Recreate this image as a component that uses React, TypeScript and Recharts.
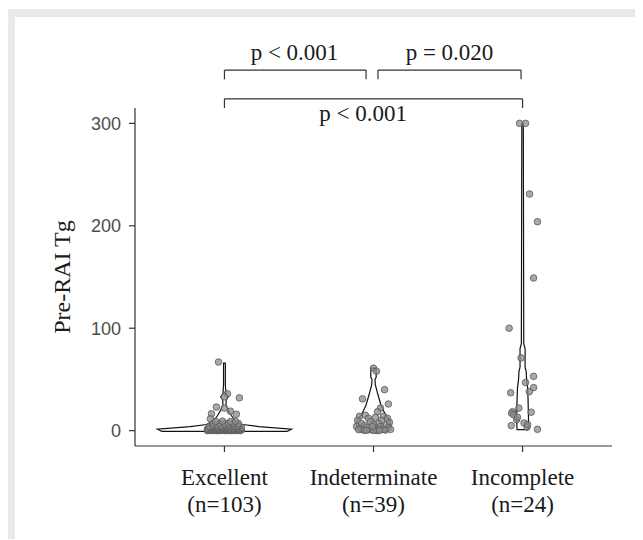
import { ComposedChart, Scatter, XAxis, YAxis, ReferenceLine, ReferenceDot } from "recharts";

const categories = ["Excellent", "Indeterminate", "Incomplete"];
const groupSizes = ["(n=103)", "(n=39)", "(n=24)"];
const yTicks = [0, 100, 200, 300];

// [jitter (category units), Pre-RAI Tg]
const excellentPoints: [number, number][] = [
  [-0.04, 67], [0.02, 36], [0, 33], [0.1, 32], [-0.054, 23], [0, 22], [-0.087, 16.5], [0.08, 16], [-0.094, 11.5], [0.04, 19],
  [-0.114, 0], [-0.094, 0.2], [-0.074, 0], [-0.054, 0.1], [-0.034, 0], [-0.013, 0.3], [0.007, 0], [0.027, 0.1], [0.047, 0], [0.067, 0.2], [0.087, 0], [0.107, 0.1],
  [-0.107, 0.5], [-0.08, 0.6], [-0.06, 0.4], [-0.04, 0.5], [-0.02, 0.7], [0, 0.5], [0.02, 0.6], [0.04, 0.4], [0.06, 0.5], [0.08, 0.7], [0.1, 0.5], [0.114, 0.6],
  [-0.1, 1], [-0.087, 1.1], [-0.067, 0.9], [-0.047, 1], [-0.027, 1.2], [-0.007, 1], [0.013, 1.1], [0.034, 0.9], [0.054, 1], [0.074, 1.2], [0.094, 1],
  [-0.114, 1.5], [-0.08, 1.6], [-0.054, 1.4], [-0.034, 1.5], [-0.013, 1.7], [0.007, 1.5], [0.027, 1.6], [0.047, 1.4], [0.067, 1.5], [0.094, 1.7], [0.107, 1.5],
  [-0.107, 2], [-0.087, 2.2], [-0.06, 2.1], [-0.04, 1.9], [-0.02, 2], [0, 2.3], [0.02, 2], [0.04, 2.1], [0.06, 1.9], [0.08, 2.2], [0.1, 2],
  [-0.094, 3], [-0.074, 3.2], [-0.047, 2.9], [-0.027, 3.1], [-0.007, 3], [0.013, 3.3], [0.034, 2.8], [0.054, 3], [0.074, 3.2], [0.087, 2.9], [0.114, 3],
  [-0.1, 4], [-0.067, 4.2], [-0.04, 3.9], [-0.013, 4.1], [0.013, 4], [0.04, 4.3], [0.067, 3.8], [0.094, 4],
  [-0.08, 5], [-0.054, 5.3], [-0.02, 4.8], [0.007, 5.1], [0.034, 5], [0.06, 5.4], [0.087, 4.9],
  [-0.074, 7], [-0.034, 7.2], [0, 6.8], [0.027, 7.1], [0.06, 7], [0.094, 6.9],
  [-0.06, 9], [-0.013, 9.3], [0.04, 8.8], [0.074, 9.1],
];

const indeterminatePoints: [number, number][] = [
  [0, 61], [0.02, 58], [0.074, 40], [-0.074, 31], [0.1, 26], [0.047, 22], [0.027, 18.5],
  [-0.094, 14], [-0.054, 15], [0.067, 14], [0.094, 12], [-0.107, 10], [-0.034, 12], [0.013, 13], [0.054, 10],
  [0.107, 8], [-0.08, 7], [-0.02, 9], [0.034, 7], [0.08, 5], [-0.114, 4], [-0.06, 5], [0, 6], [0.047, 4],
  [0.1, 3], [-0.087, 2], [-0.04, 3], [0.013, 2], [0.06, 1.5], [-0.067, 0.5], [-0.02, 1], [0.027, 0], [0.08, 0.5],
  [-0.047, 0.2], [0, 0.1], [0.04, 0.3], [-0.1, 1], [0.114, 1.2], [-0.007, 4],
];

const incompletePoints: [number, number][] = [
  [-0.02, 300], [0.02, 300], [0.047, 231], [0.1, 204], [0.074, 149], [-0.09, 100], [-0.01, 71], [0.074, 53],
  [0.02, 47], [0.074, 42], [0.045, 38], [-0.08, 37], [-0.025, 22], [-0.067, 18.5], [-0.074, 17], [-0.06, 15.5],
  [0.058, 18], [-0.04, 10.7], [0.01, 7.5], [-0.076, 4.9], [0.03, 3.4], [0.1, 1.3], [-0.034, 13], [0.034, 6],
];

// violin half-widths [Pre-RAI Tg, half width (category units)]
const excellentViolin: [number, number][] = [
  [-0.8, 0.42], [1.5, 0.45], [4, 0.23], [6, 0.12], [10, 0.07], [15, 0.045], [20, 0.025], [25, 0.01],
  [30, 0.012], [33, 0.025], [36, 0.01], [45, 0.006], [66, 0.006],
];
const indeterminateViolin: [number, number][] = [
  [-1.5, 0.08], [0, 0.1], [5, 0.115], [10, 0.11], [15.6, 0.08], [25, 0.05], [35, 0.03], [45, 0.012],
  [50, 0.01], [52, 0.018], [61, 0.018],
];
const incompleteViolin: [number, number][] = [
  [1, 0.037], [10, 0.04], [30, 0.037], [42, 0.034], [50, 0.027], [58, 0.024], [62, 0.017], [80, 0.017],
  [85, 0.008], [300, 0.005],
];

const brackets = [
  { from: 1, to: 1.95, y: 352, tip: 343 },
  { from: 2.03, to: 2.99, y: 352, tip: 343 },
  { from: 1, to: 3, y: 324, tip: 315 },
];
const pLabels = [
  { x: 1.47, y: 362, text: "p < 0.001" },
  { x: 2.51, y: 362, text: "p = 0.020" },
  { x: 1.93, y: 302, text: "p < 0.001" },
];

const SERIF = '"Liberation Serif", "Times New Roman", serif';
const SANS = '"Liberation Sans", Arial, sans-serif';

const groups = [
  { points: excellentPoints, violin: excellentViolin },
  { points: indeterminatePoints, violin: indeterminateViolin },
  { points: incompletePoints, violin: incompleteViolin },
];

function violinOutline(center: number, profile: [number, number][]) {
  const right = profile.map(([v, hw]) => ({ x: center + hw, y: v }));
  const left = [...profile].reverse().map(([v, hw]) => ({ x: center - hw, y: v }));
  return [...right, ...left, right[0]];
}

const CategoryTick = ({ x, y, payload }: any) => {
  const i = Math.round(payload.value) - 1;
  return (
    <text x={x} y={y} textAnchor="middle" fontFamily={SERIF} fontSize={23} fill="#1a1a1a">
      <tspan x={x} dy={31}>{categories[i]}</tspan>
      <tspan x={x} dy={27}>{groupSizes[i]}</tspan>
    </text>
  );
};

const YTitle = ({ viewBox }: any) => {
  const cx = viewBox.x - 13;
  const cy = viewBox.y + viewBox.height / 2;
  return (
    <text x={cx} y={cy} transform={`rotate(-90, ${cx}, ${cy})`} textAnchor="middle" dominantBaseline="central" fontFamily={SERIF} fontSize={24} fill="#1a1a1a">
      Pre-RAI Tg
    </text>
  );
};

const Dot = (p: any) => <circle cx={p.cx} cy={p.cy} r={3.3} fill="#8c8c8c" fillOpacity={0.75} stroke="#595959" strokeWidth={0.8} />;

export default function App() {
  return (
    <div style={{ position: "relative", top: 1, width: 635, height: 531, background: "#e9e9e9", overflow: "hidden" }}>
      <div style={{ position: "absolute", left: 7, top: 8, width: 628, height: 523, background: "#fff" }}>
        <ComposedChart width={628} height={523} margin={{ top: 91, right: 31, bottom: 34, left: 60 }}>
          <XAxis
            type="number"
            dataKey="x"
            domain={[0.4, 3.6]}
            ticks={[1, 2, 3]}
            height={60}
            tickSize={6}
            tick={<CategoryTick />}
            axisLine={{ stroke: "#333", strokeWidth: 1.2 }}
            tickLine={{ stroke: "#333", strokeWidth: 1.2 }}
          />
          <YAxis
            type="number"
            dataKey="y"
            domain={[-15, 315]}
            ticks={yTicks}
            width={60}
            tickSize={6}
            tickMargin={8}
            tick={{ fontSize: 18, fill: "#4d4d4d", fontFamily: SANS }}
            axisLine={{ stroke: "#333", strokeWidth: 1.2 }}
            tickLine={{ stroke: "#333", strokeWidth: 1.2 }}
            label={<YTitle />}
          />
          {groups.map((g, i) => (
            <Scatter
              key={`violin-${i}`}
              data={violinOutline(i + 1, g.violin)}
              line={{ stroke: "#111", strokeWidth: 1.2 }}
              shape={() => <g />}
              isAnimationActive={false}
            />
          ))}
          {groups.map((g, i) => (
            <Scatter
              key={`pts-${i}`}
              data={g.points.map(([j, v]) => ({ x: i + 1 + j, y: v }))}
              shape={Dot}
              isAnimationActive={false}
            />
          ))}
          {brackets.map((b, i) => [
            <ReferenceLine key={`bl-${i}`} ifOverflow="visible" segment={[{ x: b.from, y: b.tip }, { x: b.from, y: b.y }]} stroke="#333" strokeWidth={1.2} />,
            <ReferenceLine key={`bh-${i}`} ifOverflow="visible" segment={[{ x: b.from, y: b.y }, { x: b.to, y: b.y }]} stroke="#333" strokeWidth={1.2} />,
            <ReferenceLine key={`br-${i}`} ifOverflow="visible" segment={[{ x: b.to, y: b.y }, { x: b.to, y: b.tip }]} stroke="#333" strokeWidth={1.2} />,
          ])}
          {pLabels.map((l, i) => (
            <ReferenceDot
              key={`pl-${i}`}
              x={l.x}
              y={l.y}
              ifOverflow="visible"
              shape={(p: any) => (
                <text x={p.cx} y={p.cy} textAnchor="middle" fontFamily={SERIF} fontSize={23} fill="#1a1a1a">
                  {l.text}
                </text>
              )}
            />
          ))}
        </ComposedChart>
      </div>
    </div>
  );
}
